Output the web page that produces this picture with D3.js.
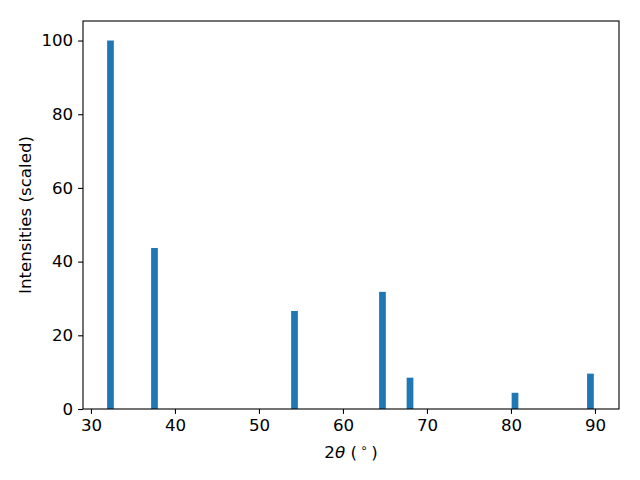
<!DOCTYPE html>
<html><head><meta charset="utf-8">
<script src="https://cdn.jsdelivr.net/npm/d3@7"></script>
<style>body{margin:0;background:#fff}svg{display:block}text{font-family:"DejaVu Sans",sans-serif}</style>
</head><body>
<script>
const positions = [32.32, 37.56, 54.23, 64.70, 67.98, 80.48, 89.46];
const intensities = [100, 43.7, 26.6, 31.8, 8.5, 4.4, 9.6];
const xTicks = [30, 40, 50, 60, 70, 80, 90];
const yTicks = [0, 20, 40, 60, 80, 100];
const barWidth = 0.8;

const W = 640, H = 480;
const m = {l: 83, r: 21, t: 21, b: 71};
const FS = 16.67;
const svg = d3.select("body").append("svg").attr("width", W).attr("height", H);
const x = d3.scaleLinear().domain([29.05, 92.86]).range([m.l, W - m.r]);
const y = d3.scaleLinear().domain([0, 105.3]).range([H - m.b, m.t]);

svg.append("g").selectAll("rect").data(positions).join("rect")
  .attr("x", (d) => x(d - barWidth / 2))
  .attr("width", (d) => x(d + barWidth / 2) - x(d - barWidth / 2))
  .attr("y", (d, i) => y(intensities[i]))
  .attr("height", (d, i) => y(0) - y(intensities[i]))
  .attr("fill", "#1f77b4");

const xa = svg.append("g").attr("transform", `translate(0,${H - m.b})`)
  .call(d3.axisBottom(x).tickValues(xTicks).tickSize(4.9).tickPadding(4.9).tickFormat(d3.format("d")));
const ya = svg.append("g").attr("transform", `translate(${m.l},0)`)
  .call(d3.axisLeft(y).tickValues(yTicks).tickSize(4.9).tickPadding(4.9).tickFormat(d3.format("d")));
[xa, ya].forEach(g => {
  g.select(".domain").remove();
  g.selectAll("line").attr("stroke", "#000").attr("stroke-width", 1.1);
  g.selectAll("text").attr("font-size", FS).attr("fill", "#000").attr("font-family", "DejaVu Sans");
});

svg.append("rect").attr("x", m.l).attr("y", m.t).attr("width", W - m.l - m.r).attr("height", H - m.t - m.b)
  .attr("fill", "none").attr("stroke", "#000").attr("stroke-width", 1.1);

const xl = svg.append("text").attr("x", (m.l + W - m.r) / 2).attr("y", 458)
  .attr("text-anchor", "middle").attr("font-size", FS);
xl.append("tspan").text("2");
xl.append("tspan").attr("font-style", "italic").text("θ");
xl.append("tspan").text(" (\u2009");
xl.append("tspan").attr("font-size", 12).attr("dy", -6).text("∘");
xl.append("tspan").attr("dy", 6).text("\u2009)");

svg.append("text").attr("transform", `translate(31,${(m.t + H - m.b) / 2}) rotate(-90)`)
  .attr("text-anchor", "middle").attr("font-size", FS).text("Intensities (scaled)");
</script>
</body></html>
